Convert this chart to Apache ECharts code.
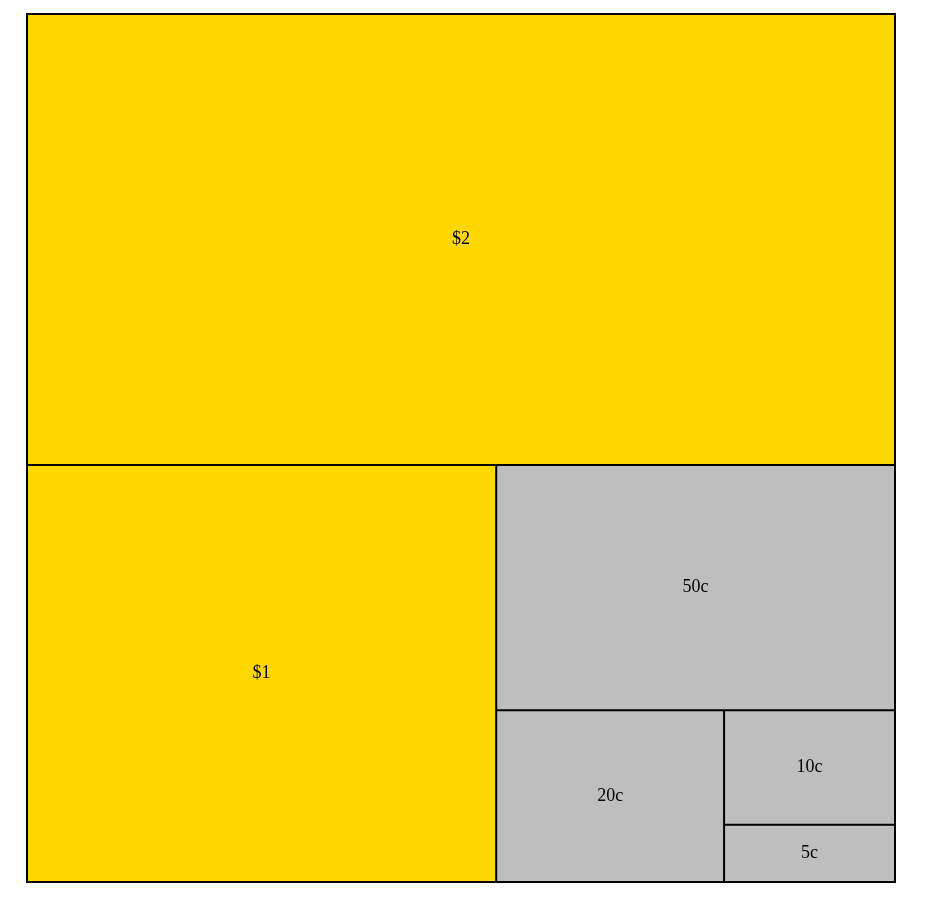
<!DOCTYPE html>
<html><head><meta charset="utf-8">
<script src="https://cdn.jsdelivr.net/npm/echarts@6/dist/echarts.min.js"></script>
<style>html,body{margin:0;padding:0;background:#fff}#c{width:925px;height:901px}</style>
</head><body><div id="c"></div>
<script>
const names = ['$2', '$1', '50c', '20c', '10c', '5c'];
const values = [2, 1, 0.5, 0.2, 0.1, 0.05];
const colors = ['#FFD700', '#FFD700', '#BEBEBE', '#BEBEBE', '#BEBEBE', '#BEBEBE'];

const chart = echarts.init(document.getElementById('c'));
chart.setOption({
  animation: false,
  series: [{
    type: 'treemap',
    left: 26, top: 13, width: 870, height: 870,
    roam: false, nodeClick: false,
    breadcrumb: { show: false },
    sort: 'desc',
    squareRatio: 1,
    label: { show: true, position: 'inside', color: '#000', fontFamily: 'Liberation Serif', fontSize: 18, align: 'center', verticalAlign: 'middle', formatter: '{b}' },
    itemStyle: { borderColor: '#000', borderWidth: 1, gapWidth: 0 },
    data: names.map((n, i) => ({ name: n, value: values[i], itemStyle: { color: colors[i] } }))
  }]
});
</script></body></html>
